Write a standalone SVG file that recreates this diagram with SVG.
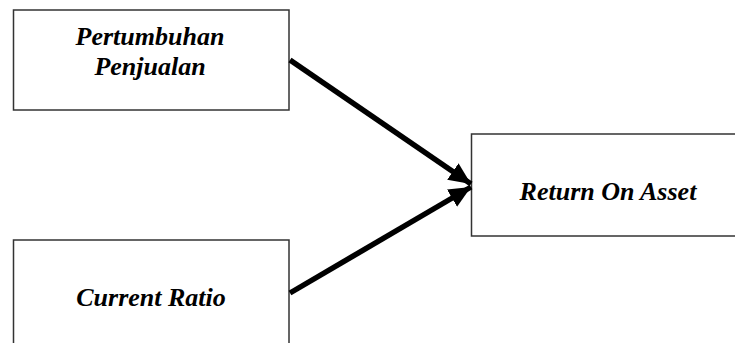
<svg xmlns="http://www.w3.org/2000/svg" width="735" height="343" viewBox="0 0 735 343">
<style>
.box{fill:#fff;stroke:#333;stroke-width:1.5}
.lbl{font-family:"Liberation Serif","Times New Roman",serif;font-weight:bold;font-style:italic;font-size:26px;fill:#000;text-anchor:middle}
.conn{stroke:#000;stroke-width:5.5;fill:none}
</style>
<defs>
<marker id="ah" markerUnits="userSpaceOnUse" markerWidth="24" markerHeight="22" refX="22" refY="11" orient="auto">
<path d="M0,1 L22,11 L0,21 Z" fill="#000"/>
</marker>
</defs>
<rect width="735" height="343" fill="#fff"/>
<g id="node-pertumbuhan">
<rect class="box" x="13.5" y="10" width="275.5" height="100"/>
<text class="lbl" x="150" y="45">Pertumbuhan</text>
<text class="lbl" x="150" y="75">Penjualan</text>
</g>
<g id="node-current">
<rect class="box" x="13.5" y="240" width="275.5" height="110"/>
<text class="lbl" x="151" y="306">Current Ratio</text>
</g>
<g id="node-roa">
<rect class="box" x="471.5" y="134" width="270" height="102"/>
<text class="lbl" x="608" y="200">Return On Asset</text>
</g>
<g id="connectors">
<line class="conn" x1="290" y1="60" x2="471" y2="184" marker-end="url(#ah)"/>
<line class="conn" x1="290" y1="293" x2="471" y2="187" marker-end="url(#ah)"/>
</g>
</svg>
